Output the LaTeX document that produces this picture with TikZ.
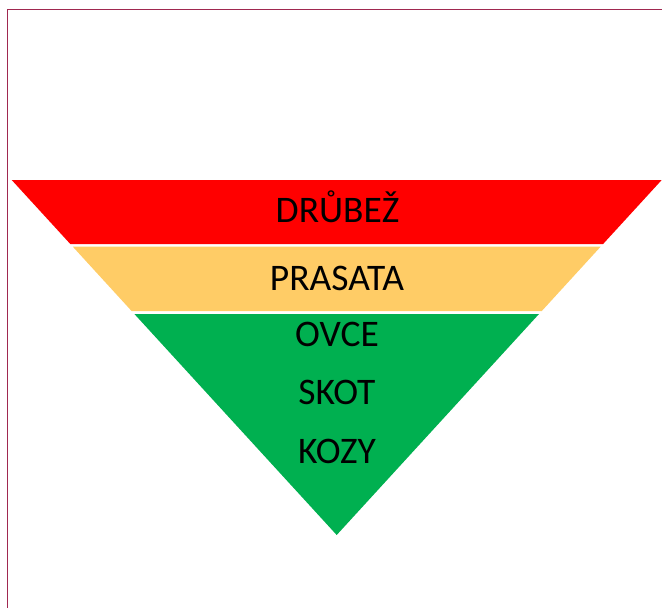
\documentclass[tikz,border=0pt]{standalone}
\usepackage{fontspec}
\setmainfont{Carlito}
\definecolor{bandred}{RGB}{255,0,0}
\definecolor{bandorange}{RGB}{255,204,102}
\definecolor{bandgreen}{RGB}{0,176,80}
\definecolor{framecol}{RGB}{160,40,80}

\begin{document}
\begin{tikzpicture}[
            x = 1pt, y = -1pt, % pixel-like units
            band/.style = {draw = none},
            animal/.style = {
                font = \fontsize{37.5}{45}\selectfont,
                text = black,
                inner sep = 0pt,
                anchor = base
            },
            frameline/.style = {draw = framecol, line width = 1.5pt}
        ]

        \useasboundingbox (0,0) rectangle (662,608);

        % outline of the page
        \draw[frameline] (7.6,608) |- (662,9.7);

        % bands of the funnel
        \fill[band, bandred] (11.7,180) -- (661.7,180) -- (603.1,244) -- (70.3,244) -- cycle;
        \fill[band, bandorange] (72.8,246.7) -- (600.6,246.7) -- (541.8,311) -- (131.6,311) -- cycle;
        \fill[band, bandgreen] (134.4,314) -- (539.0,314) -- (336.7,535) -- cycle;

        \node[animal] (drubez) at (337.5,222.3) {DRŮBEŽ};
        \node[animal] (prasata) at (337,290) {PRASATA};
        \node[animal] (ovce) at (337,346) {OVCE};
        \node[animal] (skot) at (337,404) {SKOT};
        \node[animal] (kozy) at (337,463.3) {KOZY};
    \end{tikzpicture}
\end{document}
